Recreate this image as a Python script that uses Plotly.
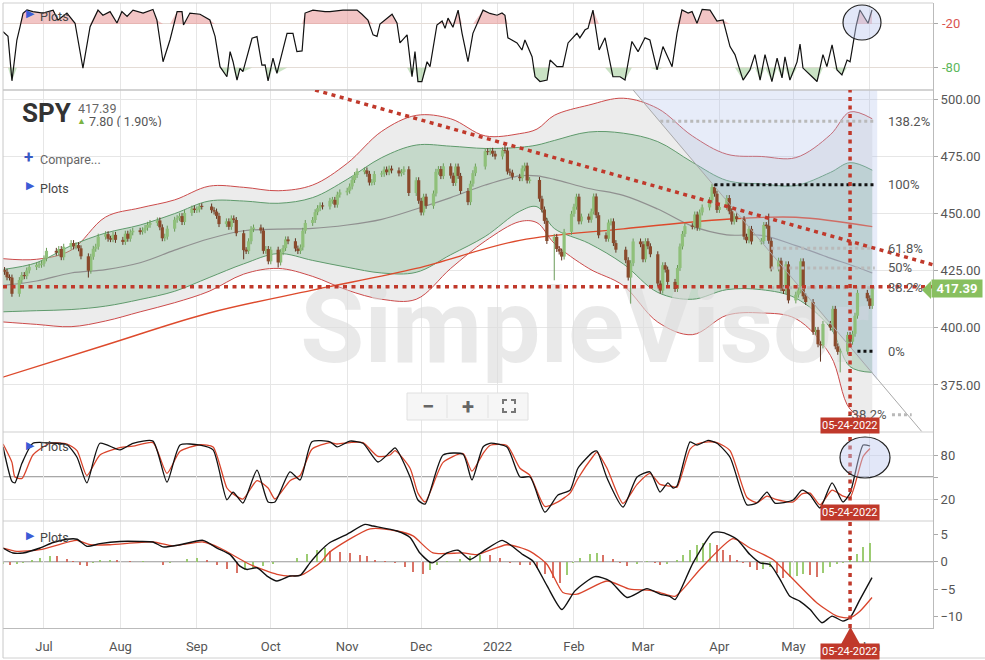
import numpy as np
import pandas as pd
import plotly.graph_objects as go

# ---------------- price data (SPY daily closes) ----------------
close_2021_06 = [425.3, 424.5, 422.1, 422.0, 414.9, 420.9, 423.1, 422.6, 425.1, 426.6, 427.5, 427.6, 428.1]
close_2021_07 = [430.4, 433.7, 432.9, 434.5, 430.9, 435.5, 437.1, 435.6, 436.2, 434.8, 431.3, 425.0, 431.1,
                 434.6, 435.5, 439.9, 441.0, 439.0, 438.8, 440.7, 438.5]
close_2021_08 = [437.6, 441.2, 439.0, 441.8, 442.5, 442.1, 442.7, 443.8, 445.1, 445.9, 447.0, 444.0, 439.2,
                 439.9, 443.4, 447.3, 448.0, 448.9, 446.3, 450.3, 452.2, 451.6]
close_2021_09 = [451.8, 453.2, 453.1, 451.5, 450.9, 449.0, 445.4, 446.6, 444.2, 447.9, 447.2, 441.4, 434.0,
                 433.6, 437.9, 443.2, 443.9, 442.6, 433.7, 434.5, 429.1]
close_2021_10 = [434.2, 428.6, 433.1, 434.9, 438.7, 437.9, 434.7, 433.6, 435.2, 442.5, 445.9, 447.2, 450.6,
                 452.4, 453.6, 453.1, 455.6, 456.0, 453.9, 458.3, 459.3]
close_2021_11 = [460.0, 461.9, 464.7, 466.9, 468.5, 468.9, 467.4, 463.6, 463.8, 467.3, 467.4, 469.3, 468.1,
                 469.7, 468.9, 467.6, 468.2, 469.4, 459.0, 464.6, 455.6]
close_2021_12 = [450.5, 457.4, 453.4, 458.8, 468.3, 469.5, 466.4, 470.7, 466.6, 463.4, 470.6, 466.5, 459.9,
                 455.0, 463.1, 467.7, 470.6, 477.3, 476.9, 477.5, 476.2, 475.0]
close_2022_01 = [477.7, 477.6, 468.4, 467.9, 466.1, 465.5, 469.8, 471.0, 464.5, 464.7, 456.5, 451.8, 446.8,
                 438.0, 439.8, 434.5, 433.4, 431.2, 442.0, 449.9]
close_2022_02 = [453.0, 457.4, 446.6, 448.7, 447.3, 450.9, 457.5, 449.3, 440.5, 439.0, 446.1, 446.6, 437.1,
                 434.2, 429.6, 422.0, 428.3, 437.8, 436.6]
close_2022_03 = [430.0, 437.9, 435.7, 432.2, 419.4, 416.3, 427.4, 425.5, 420.1, 417.0, 426.2, 435.6, 441.1,
                 444.5, 444.4, 449.6, 443.8, 450.5, 452.7, 455.9, 461.6, 458.7, 451.6]
close_2022_04 = [452.9, 456.8, 451.0, 446.5, 448.8, 447.6, 439.9, 438.3, 443.3, 437.8, 438.0, 445.0, 444.7,
                 438.1, 426.0, 429.4, 417.3, 416.1, 427.8, 412.0]
close_2022_05 = [414.5, 416.4, 429.1, 413.8, 411.3, 398.2, 399.1, 392.8, 392.3, 401.7, 400.1, 408.3, 391.9,
                 389.5, 389.6, 396.9, 393.9, 397.4, 405.3, 415.3, 412.9]
close_2022_06 = [409.6, 417.4]
first_open = 424.3
market_holidays = ["2021-07-05", "2021-09-06", "2021-11-25", "2021-12-24", "2022-01-17",
                   "2022-02-21", "2022-04-15", "2022-05-30"]

low_dates = ["2021-06-18", "2021-07-19", "2021-09-20", "2021-10-04", "2021-12-01", "2022-01-24",
             "2022-01-27", "2022-02-24", "2022-03-08", "2022-05-12", "2022-05-20"]
low_vals = [414.7, 422.0, 430.0, 426.4, 450.3, 420.8, 429.5, 410.6, 415.1, 385.2, 380.5]
high_dates = ["2022-01-04", "2022-03-29", "2022-05-04", "2022-04-21", "2022-02-02", "2022-02-09"]
high_vals = [480.0, 462.1, 429.7, 450.0, 458.1, 457.9]

# ---------------- bands / moving averages ----------------
band_dates = ["2021-06-14", "2021-06-28", "2021-07-12", "2021-07-26", "2021-08-09", "2021-08-23",
              "2021-09-06", "2021-09-20", "2021-10-04", "2021-10-18", "2021-11-01", "2021-11-15",
              "2021-11-29", "2021-12-13", "2021-12-27", "2022-01-10", "2022-01-17", "2022-01-24",
              "2022-02-07", "2022-02-21", "2022-03-07", "2022-03-21", "2022-04-04", "2022-04-18",
              "2022-05-02", "2022-05-16", "2022-05-24", "2022-06-02"]
upper_red = [430.3, 430, 434, 448.5, 452.5, 456, 462, 461.5, 460, 462.5, 472, 486, 493, 491.5, 484, 485,
             487, 493, 497.5, 500.5, 496, 484, 476, 475, 474.5, 484.5, 494.5, 491.5]
upper_green = [425.5, 428.5, 436, 441.5, 445, 450, 455.5, 455.5, 454.5, 457, 465, 474.5, 480, 479.5, 478.5,
               479, 480, 482, 485.7, 485.2, 481.5, 472.5, 464.5, 463, 462.3, 468, 472.3, 469]
mid_gray = [418.5, 420.5, 424, 425.5, 428.5, 434, 439, 442.5, 443.2, 443.5, 445, 447.5, 452, 457, 462.5,
            466.5, 466.5, 465, 461, 458, 452, 444.5, 440.7, 440.5, 436, 430.5, 427.6, 424]
lower_green = [407, 407.5, 408, 409.5, 412.4, 416, 422, 428, 432.5, 429.5, 426.5, 424, 424.3, 432, 440,
               451, 453, 443.5, 437, 428, 415.5, 412.5, 416.7, 416.7, 413, 400, 383, 380.5]
lower_red = [402.6, 401.5, 400.5, 403, 407, 411, 416, 423.5, 426, 422.5, 416.5, 412.5, 412.5, 426, 438,
             446.5, 446, 437, 426, 418.5, 402.5, 397, 405.5, 406.5, 404, 388, 364.4, 359]
ma200_dates = ["2021-06-14", "2021-07-26", "2021-09-06", "2021-10-18", "2021-11-29", "2022-01-10",
               "2022-02-21", "2022-04-04", "2022-05-02", "2022-06-02"]
ma200_vals = [378.3, 392.5, 406.5, 416.5, 426, 438.3, 443.3, 447.5, 448.4, 444.3]

# ---------------- oscillators (day offsets from 2021-07-01) ----------------
wr_day = [-16.6, -14.6, -13.0, -11.0, -9.7, -8.5, -6.9, -4.5, -0.4, 3.7, 5.7, 9.3, 12.6, 15.8, 18.7, 21.9,
          23.9, 26.8, 29.6, 31.6, 33.7, 36.1, 40.2, 44.2, 45.8, 48.3, 51.1, 54.0, 56.0, 56.6, 59.2, 63.3,
          67.3, 69.4, 71.4, 74.2, 75.5, 76.7, 78.3, 79.5, 80.7, 84.4, 86.4, 88.4, 89.7, 90.9, 92.9, 94.5,
          98.6, 101.0, 102.6, 104.7, 105.9, 109.1, 114.0, 116.0, 121.3, 127.0, 129.0, 131.4, 133.5, 135.1,
          136.3, 139.1, 141.2, 143.2, 144.4, 147.3, 149.3, 150.5, 151.7, 153.3, 155.4, 156.6, 159.4, 161.5,
          162.7, 163.9, 165.9, 168.0, 169.6, 172.0, 174.0, 178.1, 180.9, 183.8, 185.8, 187.0, 188.2, 191.9,
          193.9, 195.1, 198.0, 199.2, 201.2, 204.1, 205.3, 208.1, 210.5, 212.6, 216.2, 217.4, 219.5, 220.7,
          222.7, 225.2, 227.6, 230.8, 233.7, 235.7, 238.5, 241.0, 243.8, 245.8, 248.7, 251.1, 254.8, 256.8,
          258.8, 261.3, 262.9, 264.9, 267.0, 270.2, 273.0, 275.5, 278.3, 280.3, 283.6, 286.4, 288.4, 290.5,
          292.5, 295.3, 297.4, 299.4, 300.6, 302.6, 305.5, 306.7, 307.9, 311.6, 313.6, 316.0, 317.6, 319.7,
          321.7, 323.7, 325.8, 327.0, 329.4, 331.0, 334.3, 335.9]
wr_val = [-30.5, -37, -98, -42, -23.7, -5.3, -0.8, -3, -5, -1, -14.5, -5, -19, -80.5, -23.7, -1,
          -8, -3, -18.6, -3, -9.5, -1, -5, 0, -14.5, -71.8, -42, -3, -3, -21.4, -5, -6.6,
          -14.5, -37, -78.6, -92.4, -58, -71.8, -97, -81, -85.5, -39.6, -37.4, -76.3, -76, -98, -67, -87.7,
          -32.8, -33, -58, -57, -5, -1, -3, -3, -1, -1, -6.6, -14.5, -35, -37,
          -20, -12, -6.6, -18.6, -46, -35, -92.4, -58, -99, -99, -71.8, -78.6, -21.4, -16,
          -26, -12, -24.5, -1, -32.8, -71.8, -32.8, -1, -5.5, -8, -5, -8, -39, -46,
          -55.7, -42, -65, -92.4, -99, -97, -69.5, -78.6, -78.6, -46, -32.8, -39, -28, -26,
          -1, -55.7, -39, -92.4, -92.4, -97, -44, -58, -39, -42, -83, -51, -78.6, -32.8,
          -0.8, -5, -3, -19, 0, -1, -16, -14.5, -51, -62, -97, -83, -62, -97,
          -62, -99, -67, -94, -65, -97, -72, -47.6, -80.5, -92.4, -99, -62, -78.6, -48.6,
          -83, -90, -69.5, -72, -23.7, -0.8, -19, -0.8]

stoch_day = [-16.6, -13.0, -11.8, -8.9, -4.5, 2.4, 9.3, 13.4, 17.4, 22.7, 30.8, 36.1, 44.2, 49.9, 55.2,
             63.3, 68.6, 74.2, 76.7, 80.7, 86.4, 90.9, 93.7, 99.8, 103.9, 108.7, 116.0, 118.9, 124.1,
             129.4, 135.5, 140.4, 142.4, 148.5, 151.7, 154.6, 161.9, 170.0, 173.6, 178.1, 180.9, 187.8,
             193.1, 197.2, 203.2, 208.5, 213.4, 216.6, 222.7, 224.3, 228.4, 234.9, 240.6, 245.8, 249.9,
             253.1, 255.2, 256.8, 262.1, 264.9, 269.4, 273.0, 278.3, 285.2, 289.2, 293.3, 296.5, 303.9,
             307.5, 310.8, 314.8, 319.7, 324.1, 327.0, 332.3, 335.1]
stoch_k = [91, 44, 42, 69, 96, 96.5, 94, 77, 42, 96, 87, 96, 99, 43, 93.6, 93.6, 87, 19, 29.5, 14.5,
           59.5, 16, 16, 57, 46, 98, 98, 91, 99, 96, 70.5, 84, 89.6, 50, 18.6, 13, 80, 81, 46, 91, 96, 91,
           50, 50, 2, 25.4, 32, 62, 84, 85.5, 48.6, 9, 50, 57, 29.5, 42, 35, 38, 98, 93.6, 100, 96, 77, 12,
           14.5, 29.5, 14.5, 18.6, 32, 25.4, 7.7, 42, 16, 28, 93.6, 92.3]
stoch_d = [95, 70, 50, 48, 80, 96, 95, 86, 52, 80, 90, 92, 97, 55, 85, 94, 91, 35, 27, 20, 45, 35, 20,
           45, 52, 88, 97, 95, 97, 97, 78, 80, 86, 62, 28, 16, 70, 82, 58, 82, 93, 93, 62, 52, 10, 16,
           28, 48, 78, 84, 62, 14, 40, 55, 40, 38, 37, 36, 88, 95, 98, 97, 86, 22, 15, 24, 20, 16, 27,
           28, 12, 32, 24, 22, 78, 89]

macd_day = [-16.6, -12.6, -8.5, -1.6, 3.7, 9.3, 13.4, 17.4, 22.7, 30.8, 38.9, 44.2, 48.3, 55.2, 64.5,
            70.2, 75.5, 79.5, 82.4, 86.4, 90.5, 94.5, 99.8, 103.9, 107.9, 112.0, 116.0, 122.9, 130.2,
            133.5, 143.2, 148.5, 152.5, 157.4, 163.5, 168.0, 172.8, 178.1, 185.8, 189.1, 194.3, 198.4,
            204.1, 210.1, 215.4, 223.5, 229.6, 236.5, 244.6, 249.9, 253.9, 256.0, 263.3, 271.4, 275.5,
            281.1, 286.4, 290.5, 294.5, 298.6, 302.6, 306.7, 310.8, 315.6, 319.7, 324.1, 327.0, 331.0, 335.9]
macd_val = [2.5, 1.6, 1.6, 2.5, 3.5, 4.1, 4.1, 2.8, 3.3, 3.7, 3.7, 3.6, 2.7, 3.1, 3.9, 2.5, 1.3, -0.8,
            -1.4, -1.1, -2.6, -3.5, -2.6, -2.5, -0.2, 1.9, 3.5, 5.0, 6.8, 6.5, 5.6, 4.4, 1.6, -0.2, 1.6,
            2.1, 0.4, 1.9, 3.9, 3.1, 1.3, 0.1, -4.4, -8.7, -5.3, -2.7, -3.5, -6.5, -4.9, -5.9, -6.3, -6.9,
            -0.2, 5.3, 5.3, 4.1, 1.3, -0.2, -0.5, -3.2, -6.3, -7.2, -8.7, -11.1, -9.9, -10.8, -10.2, -6.9, -2.9]
signal_day = [-16.6, -11.0, -1.6, 13.4, 18.7, 26.8, 44.2, 52.3, 64.5, 71.4, 83.6, 94.5, 99.8, 105.1,
              112.0, 116.0, 132.3, 143.2, 149.7, 157.8, 170.0, 175.7, 187.8, 197.2, 204.1, 210.5, 216.2,
              228.4, 237.7, 245.8, 249.9, 256.0, 266.1, 279.5, 286.4, 295.7, 302.6, 313.6, 321.7, 327.0,
              331.0, 335.9]
signal_val = [2.5, 1.9, 2.2, 3.9, 3.1, 3.1, 3.6, 2.9, 3.6, 2.5, -0.5, -2.3, -2.6, -2.3, -0.2, 1.8, 6.0,
              5.6, 4.7, 1.6, 1.6, 1.3, 3.1, 1.9, -0.5, -5.6, -5.9, -3.5, -5.0, -5.2, -5.6, -6.3, -1.4, 4.2,
              2.5, 0.4, -2.6, -7.5, -9.9, -10.2, -9.0, -6.5]
hist_day = [-16.6, -13.8, -11.0, -8.5, -4.9, -1.6, 2.4, 5.3, 9.3, 11.8, 14.6, 17.4, 19.9, 22.7, 26.8, 29.6,
            34.9, 40.2, 44.2, 48.3, 51.1, 58.0, 62.1, 66.1, 70.2, 74.2, 78.3, 81.5, 84.8, 88.8, 92.9, 97.0,
            102.6, 106.7, 110.8, 114.0, 116.0, 120.1, 124.1, 128.2, 131.0, 134.3, 138.3, 142.4, 146.5,
            149.7, 153.8, 156.6, 159.4, 163.5, 168.8, 172.8, 176.9, 180.9, 185.0, 189.1, 193.1, 197.2,
            200.0, 203.3, 206.5, 209.3, 212.2, 214.6, 217.4, 221.5, 224.3, 226.8, 230.8, 233.7, 236.5,
            240.6, 244.6, 247.9, 249.9, 252.8, 256.8, 259.2, 262.1, 264.9, 267.4, 270.2, 273.0, 275.5,
            278.3, 281.1, 283.6, 286.4, 289.2, 291.7, 294.5, 297.4, 299.8, 302.6, 305.5, 307.9, 310.8,
            313.6, 316.0, 318.9, 321.7, 324.1, 327.0, 329.8, 332.3, 335.1]
hist_val = [-0.4, -0.5, -0.4, -0.3, 0.3, 0.6, 1.1, 1.0, 0.5, 0.1, -0.6, -0.8, -0.3, 0.3, 0.4, 0.3,
            0.1, 0.1, -0.1, -0.5, -0.2, 0.5, 0.7, 0.4, -0.6, -1.4, -2.0, -1.5, -1.2, -0.8, -0.4, -0.1,
            0.6, 1.5, 2.2, 2.5, 2.0, 1.8, 1.6, 1.3, 1.0, 0.4, 0.1, -0.3, -1.0,
            -1.8, -2.3, -1.5, -0.5, 0.1, 0.5, 1.0, 1.3, 1.2, 0.6, -0.3, -0.5, -0.6,
            -1.2, -2.2, -3.0, -3.8, -2.5, -0.3, 0.6, 1.4, 1.6, 1.2, 0.5, -0.3, -0.8,
            -0.4, 0.2, -0.3, -0.5, -0.4, 0.3, 1.2, 2.2, 3.0, 3.5, 3.5, 3.0, 2.2,
            1.2, 0.4, -0.2, -0.9, -1.5, -1.3, -0.9, -2.0, -3.0, -2.8, -2.6, -2.2, -2.5,
            -2.7, -2.0, -1.0, -0.4, -0.2, 0.3, 1.5, 2.6, 3.5]

# ---------------- drawing tools ----------------
fib_labels = ["138.2%", "100%", "61.8%", "50%", "38.2%", "0%", "-38.2%"]
fib_prices = [490.4, 462.6, 434.8, 426.2, 417.5, 389.7, 361.9]
fib_start = ["2022-03-08", "2022-03-30", "2022-04-22", "2022-04-22", "2022-04-22", "2022-05-27", "2022-06-10"]
fib_end = ["2022-06-03", "2022-06-03", "2022-06-03", "2022-06-03", "2022-06-03", "2022-06-03", "2022-06-18"]
fib_black = [False, True, False, False, False, True, False]
support_level = 418.0
resist_pts_x = ["2021-10-19", "2022-06-27"]
resist_pts_y = [504.1, 427.5]
trend_pts_x = ["2022-02-25", "2022-06-22"]
trend_pts_y = [504.1, 354.7]
fib_zone_x = ["2022-02-25", "2022-06-04", "2022-06-04", "2022-02-25"]
fib_zone_y = [504.1, 504.1, 377.1, 504.1]
marker_date = "2022-05-24"
last_price = 417.39
month_ticks = ["2021-07-01", "2021-08-01", "2021-09-01", "2021-10-01", "2021-11-01", "2021-12-01",
               "2022-01-01", "2022-02-01", "2022-03-01", "2022-04-01", "2022-05-01", "2022-06-01"]
month_labels = ["Jul", "Aug", "Sep", "Oct", "Nov", "Dec", "2022", "Feb", "Mar", "Apr", "May", "Jun"]

# ---------------- prepare ----------------
base = pd.Timestamp("2021-07-01")


def day_dates(days):
    return [(base + pd.to_timedelta(d, unit="D")).strftime("%Y-%m-%d %H:%M") for d in days]


closes = np.array(close_2021_06 + close_2021_07 + close_2021_08 + close_2021_09 + close_2021_10 +
                  close_2021_11 + close_2021_12 + close_2022_01 + close_2022_02 + close_2022_03 +
                  close_2022_04 + close_2022_05 + close_2022_06)
tdays = pd.bdate_range("2021-06-14", "2022-06-02")
tdays = tdays[~tdays.isin(pd.to_datetime(market_holidays))]
n = min(len(tdays), len(closes))
tdays = tdays[:n]
closes = closes[:n]
opens = np.concatenate([[first_open], closes[:-1]])
WICK = 1.3
highs = np.maximum(opens, closes) + WICK
lows = np.minimum(opens, closes) - WICK
for d, v in zip(low_dates, low_vals):
    ts = pd.Timestamp(d)
    if ts in tdays:
        i = tdays.get_loc(ts)
        lows[i] = min(lows[i], v)
for d, v in zip(high_dates, high_vals):
    ts = pd.Timestamp(d)
    if ts in tdays:
        i = tdays.get_loc(ts)
        highs[i] = max(highs[i], v)
tstr = [d.strftime("%Y-%m-%d") for d in tdays]


def segs(idx, y0, y1):
    X, Y = [], []
    for i in idx:
        X += [tstr[i], tstr[i], None]
        Y += [y0[i], y1[i], None]
    return X, Y


up = [i for i in range(n) if closes[i] >= opens[i]]
dn = [i for i in range(n) if closes[i] < opens[i]]
btop = np.maximum(opens, closes)
bbot = np.minimum(opens, closes)
thin = (btop - bbot) < 0.4
btop = np.where(thin, btop + 0.2, btop)
bbot = np.where(thin, bbot - 0.2, bbot)

RED_DOT = "#c0392b"
fig = go.Figure()

# ---- Williams %R panel ----
wr_x = day_dates(wr_day)
wr = np.array(wr_val[:len(wr_x)])
wr_x = wr_x[:len(wr)]
fig.add_trace(go.Scatter(x=wr_x, y=np.full(len(wr), -20.0), mode="lines", line=dict(width=0),
                         yaxis="y", hoverinfo="skip"))
fig.add_trace(go.Scatter(x=wr_x, y=np.maximum(wr, -20), mode="lines", line=dict(width=0), fill="tonexty",
                         fillcolor="rgba(232,150,150,0.55)", yaxis="y", hoverinfo="skip"))
fig.add_trace(go.Scatter(x=wr_x, y=np.full(len(wr), -80.0), mode="lines", line=dict(width=0),
                         yaxis="y", hoverinfo="skip"))
fig.add_trace(go.Scatter(x=wr_x, y=np.minimum(wr, -80), mode="lines", line=dict(width=0), fill="tonexty",
                         fillcolor="rgba(150,200,140,0.5)", yaxis="y", hoverinfo="skip"))
fig.add_trace(go.Scatter(x=wr_x, y=wr, mode="lines", line=dict(color="#111", width=1.2), yaxis="y"))

# ---- main panel ----
fig.add_trace(go.Scatter(x=band_dates, y=upper_red, mode="lines", line=dict(color="#cc4b4b", width=1, shape="spline"),
                         yaxis="y2"))
fig.add_trace(go.Scatter(x=band_dates, y=lower_red, mode="lines", line=dict(color="#cc4b4b", width=1, shape="spline"),
                         fill="tonexty", fillcolor="#ececec", yaxis="y2"))
fig.add_trace(go.Scatter(x=band_dates, y=upper_green, mode="lines",
                         line=dict(color="#5f9a6c", width=1, shape="spline"), yaxis="y2"))
fig.add_trace(go.Scatter(x=band_dates, y=lower_green, mode="lines",
                         line=dict(color="#5f9a6c", width=1, shape="spline"),
                         fill="tonexty", fillcolor="rgba(140,190,152,0.40)", yaxis="y2"))
fig.add_trace(go.Scatter(x=band_dates, y=mid_gray, mode="lines", line=dict(color="#909090", width=1.2, shape="spline"),
                         yaxis="y2"))
fig.add_trace(go.Scatter(x=ma200_dates, y=ma200_vals, mode="lines",
                         line=dict(color="#dd4a2c", width=1.4, shape="spline"), yaxis="y2"))
fig.add_trace(go.Scatter(x=["2021-10-13"], y=[396.5], mode="text", text=["<b>SimpleVisor</b>"],
                         textposition="middle right",
                         textfont=dict(size=104, color="rgba(220,220,220,0.62)", family="Roboto"),
                         yaxis="y2", hoverinfo="skip"))
fig.add_trace(go.Scatter(x=fib_zone_x, y=fib_zone_y, mode="lines", line=dict(width=0), fill="toself",
                         fillcolor="rgba(175,192,235,0.30)", yaxis="y2", hoverinfo="skip"))
# candles
X, Y = segs(up, lows, highs)
fig.add_trace(go.Scatter(x=X, y=Y, mode="lines", line=dict(color="#6a9b58", width=1), yaxis="y2"))
X, Y = segs(dn, lows, highs)
fig.add_trace(go.Scatter(x=X, y=Y, mode="lines", line=dict(color="#5e3320", width=1), yaxis="y2"))
X, Y = segs(up, bbot, btop)
fig.add_trace(go.Scatter(x=X, y=Y, mode="lines", line=dict(color="#8fc07a", width=3.2), yaxis="y2"))
X, Y = segs(dn, bbot, btop)
fig.add_trace(go.Scatter(x=X, y=Y, mode="lines", line=dict(color="#8a4a2c", width=3.2), yaxis="y2"))

# ---- stochastic panel ----
sx = day_dates(stoch_day)
fig.add_trace(go.Scatter(x=sx, y=stoch_d[:len(sx)], mode="lines",
                         line=dict(color="#d9442b", width=1.3, shape="spline", smoothing=0.6), yaxis="y3"))
fig.add_trace(go.Scatter(x=sx, y=stoch_k[:len(sx)], mode="lines",
                         line=dict(color="#111", width=1.3, shape="spline", smoothing=0.6), yaxis="y3"))

# ---- MACD panel ----
hx = day_dates(hist_day)
hv = np.array(hist_val[:len(hx)])
hcol = ["rgba(140,195,90,0.85)" if (i == 0 or hv[i] >= hv[i - 1]) else "rgba(210,90,75,0.85)"
        for i in range(len(hv))]
fig.add_trace(go.Bar(x=hx, y=hv, marker=dict(color=hcol, line=dict(width=0)), width=0.55 * 86400000,
                     yaxis="y4"))
fig.add_trace(go.Scatter(x=day_dates(signal_day), y=signal_val, mode="lines",
                         line=dict(color="#d9442b", width=1.3, shape="spline", smoothing=0.6), yaxis="y4"))
fig.add_trace(go.Scatter(x=day_dates(macd_day), y=macd_val, mode="lines",
                         line=dict(color="#111", width=1.4, shape="spline", smoothing=0.6), yaxis="y4"))

# ---------------- layout ----------------
D_TOP = [0.8608, 1.0]
D_MAIN = [0.3136, 0.8608]
D_STO = [0.1712, 0.3136]
D_MACD = [0.0, 0.1712]
GRID = "#e6e6e6"
yax_common = dict(anchor="x", side="right", showline=True, linecolor="#bbb", ticks="outside", ticklen=4,
                  tickcolor="#aaa", tickfont=dict(size=13, color="#555"), zeroline=False, gridcolor=GRID,
                  fixedrange=True)

fig.update_layout(
    width=985, height=660, margin=dict(l=3, r=52, t=3, b=32),
    paper_bgcolor="white", plot_bgcolor="white", showlegend=False,
    font=dict(family="Roboto", color="#555", size=13), bargap=0,
    xaxis=dict(anchor="y4", type="date", range=["2021-06-14 08:53", "2022-06-26 15:30"],
               tickvals=month_ticks, ticktext=month_labels, showgrid=True, gridcolor=GRID,
               showline=True, linecolor="#bbb", ticks="outside", ticklen=6, tickcolor="rgba(0,0,0,0)",
               tickfont=dict(size=13, color="#555"), zeroline=False, rangeslider=dict(visible=False)),
    yaxis=dict(domain=D_TOP, range=[-110.6, 8.8], tickvals=[-80, -20], showticklabels=False,
               **{k: v for k, v in yax_common.items() if k != "gridcolor"}, gridcolor="#e4dcd6"),
    yaxis2=dict(domain=D_MAIN, range=[354.4, 504.1], tickvals=[375, 400, 425, 450, 475, 500],
                tickformat=".2f", **yax_common),
    yaxis3=dict(domain=D_STO, range=[-10, 111.4], tickvals=[20, 50, 80], ticktext=["20", "", "80"],
                **yax_common),
    yaxis4=dict(domain=D_MACD, range=[-12.06, 7.42], tickvals=[-10, -5, 0, 5], showgrid=False,
                **{k: v for k, v in yax_common.items() if k != "gridcolor"}),
)


def px(x):
    return (x - 3) / 930.0


def py(y):
    return (628 - y) / 625.0


shapes = []
# panel separators / frame
for yy, col, w in [(D_TOP[0], "#c4c4c4", 1.6), (D_MAIN[0], "#cfcfcf", 1), (D_STO[0], "#cfcfcf", 1),
                   (1.0, "#cfcfcf", 1), (py(658), "#d0d0d0", 1)]:
    shapes.append(dict(type="line", xref="paper", yref="paper", x0=0, x1=1 if yy >= 0 else 1.056,
                       y0=yy, y1=yy, line=dict(color=col, width=w)))
shapes.append(dict(type="line", xref="paper", yref="paper", x0=0, x1=0, y0=py(658), y1=1,
                   line=dict(color="#c8c8c8", width=1)))
shapes.append(dict(type="line", xref="paper", yref="y3", x0=0, x1=1, y0=50, y1=50,
                   line=dict(color="#a8a8a8", width=2), layer="below"))
shapes.append(dict(type="line", xref="paper", yref="y4", x0=0, x1=1, y0=0, y1=0,
                   line=dict(color="#999", width=1.2), layer="below"))
# gray trend line
shapes.append(dict(type="line", xref="x", yref="y2", x0=trend_pts_x[0], y0=trend_pts_y[0],
                   x1=trend_pts_x[1], y1=trend_pts_y[1], line=dict(color="#a9a9a9", width=1)))
# fib levels
for lab, pr, s, e, blk in zip(fib_labels, fib_prices, fib_start, fib_end, fib_black):
    shapes.append(dict(type="line", xref="x", yref="y2", x0=s, x1=e, y0=pr, y1=pr,
                       line=dict(color="#111" if blk else "#b9b9b9", width=3, dash="3px,3px")))
# red dotted lines
shapes.append(dict(type="line", xref="paper", yref="y2", x0=0, x1=1, y0=support_level, y1=support_level,
                   line=dict(color=RED_DOT, width=3.5, dash="4px,4.5px")))
shapes.append(dict(type="line", xref="x", yref="y2", x0=resist_pts_x[0], y0=resist_pts_y[0],
                   x1=resist_pts_x[1], y1=resist_pts_y[1], line=dict(color=RED_DOT, width=3.5, dash="4px,4.5px")))
shapes.append(dict(type="line", xref="x", yref="paper", x0=marker_date, x1=marker_date, y0=0, y1=D_TOP[0],
                   line=dict(color=RED_DOT, width=3.5, dash="4px,4.5px")))
# ellipses
shapes.append(dict(type="circle", xref="paper", yref="paper", x0=px(843), x1=px(881), y0=py(40), y1=py(5),
                   fillcolor="rgba(190,202,240,0.45)", line=dict(color="#222", width=1.2)))
shapes.append(dict(type="circle", xref="paper", yref="paper", x0=px(840), x1=px(890), y0=py(478), y1=py(437),
                   fillcolor="rgba(190,202,240,0.45)", line=dict(color="#222", width=1.2)))
# bottom marker triangle
shapes.append(dict(type="path", xref="paper", yref="paper",
                   path=f"M {px(850.5)},{py(627)} L {px(840)},{py(646)} L {px(861)},{py(646)} Z",
                   fillcolor="#c0392b", line=dict(width=0)))
# price tag arrow
shapes.append(dict(type="path", xref="paper", yref="paper",
                   path=f"M {px(922)},{py(290)} L {px(931)},{py(281)} L {px(931)},{py(299)} Z",
                   fillcolor="#88bf5f", line=dict(width=0)))
# zoom buttons
shapes.append(dict(type="rect", xref="paper", yref="paper", x0=px(407), x1=px(528), y0=py(420), y1=py(393),
                   fillcolor="#f6f6f6", line=dict(color="#e0e0e0", width=1)))
for xx in (447, 488):
    shapes.append(dict(type="line", xref="paper", yref="paper", x0=px(xx), x1=px(xx), y0=py(418), y1=py(395),
                       line=dict(color="#e2e2e2", width=1)))
for (cx, cy, dx, dy) in [(503, 400, 1, 1), (515, 400, -1, 1), (503, 412, 1, -1), (515, 412, -1, -1)]:
    shapes.append(dict(type="path", xref="paper", yref="paper",
                       path=f"M {px(cx)},{py(cy + 4 * dy)} L {px(cx)},{py(cy)} L {px(cx + 4 * dx)},{py(cy)}",
                       line=dict(color="#777", width=2)))

annotations = []


def txt(x, y, s, size=12.5, color="#555", xanchor="left", **kw):
    annotations.append(dict(x=x, y=y, xref=kw.pop("xref", "paper"), yref=kw.pop("yref", "paper"), text=s,
                            showarrow=False, xanchor=xanchor, yanchor="middle",
                            font=dict(size=size, color=color, family="Roboto"), **kw))


# fib labels
for lab, pr in zip(fib_labels, fib_prices):
    if lab == "-38.2%":
        txt(px(846), pr, lab, size=13, color="#555", yref="y2")
    else:
        txt(px(886), pr, lab, size=13, color="#555", yref="y2")
# WR axis labels
txt(px(940), py(24), "-20", size=13, color="#d9534f")
txt(px(940), py(68), "-80", size=13, color="#5cb85c")
# header texts
txt(px(20), py(113), "<b>SPY</b>", size=26, color="#333")
txt(px(77), py(108), "417.39", size=12.5, color="#666", height=12, borderpad=0)
txt(px(76), py(121), "▲", size=9, color="#7cb342", height=11, borderpad=0)
txt(px(88), py(121), "7.80 ( 1.90%)", size=12.5, color="#555", height=12, borderpad=0)
txt(px(22), py(157), "<b>+</b>", size=17, color="#3a58c4")
txt(px(38), py(159), "Compare...", size=12.5, color="#666")
for yy in (188, 16, 447, 537):
    txt(px(24), py(yy - 2), "▶", size=11, color="#3b5bd6")
    txt(px(38), py(yy), "Plots", size=12.5, color="#444")
# zoom button glyphs
txt(px(428), py(406), "<b>−</b>", size=22, color="#666", xanchor="center")
txt(px(468), py(406), "<b>+</b>", size=22, color="#666", xanchor="center")
# date labels
for yy in (425, 512.5, 651.5):
    annotations.append(dict(x=marker_date, y=py(yy), xref="x", yref="paper", text="05-24-2022",
                            showarrow=False, xanchor="center", yanchor="middle", bgcolor="#c0392b",
                            borderpad=1, font=dict(size=11, color="white", family="Roboto")))
# last price tag
annotations.append(dict(x=px(931), y=last_price, xref="paper", yref="y2", text="<b>417.39</b>",
                        showarrow=False, xanchor="left", yanchor="middle", bgcolor="#88bf5f",
                        width=48, height=15, borderpad=1, font=dict(size=13, color="white", family="Roboto")))

fig.update_layout(shapes=shapes, annotations=annotations)
fig.write_html("out.html", config={"displayModeBar": False})
